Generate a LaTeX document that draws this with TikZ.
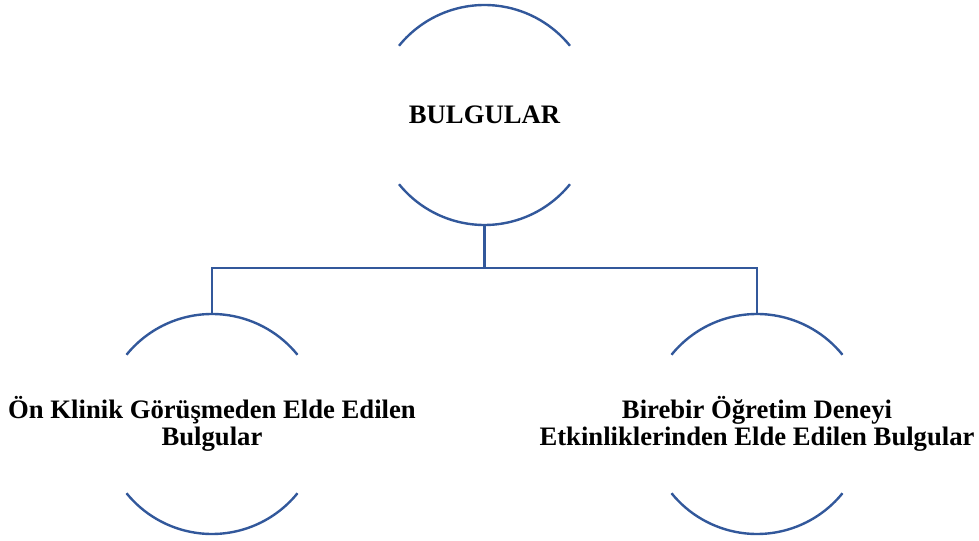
\documentclass[tikz,border=0pt]{standalone}
\usepackage{fontspec}
\setmainfont{Liberation Serif}
\usepackage{tikz}

\begin{document}
\begin{tikzpicture}[x=0.75pt,y=0.75pt,yscale=-1,xscale=1,
  ring/.style={circle,minimum size=164pt,inner sep=0pt},
  arcline/.style={draw={rgb, 255:red, 50; green, 88; blue, 155 },line width=1.8pt},
  caption/.style={align=center,font=\fontsize{20}{20.25}\selectfont\bfseries}]
\useasboundingbox (0,0) rectangle (979,541);

%Shape: Circle nodes
\node[ring] (bulgular) at (484.5,115) {};
\node[ring] (onklinik) at (212,424) {};
\node[ring] (birebir) at (757,424) {};

%Shape: Arcs
\draw[arcline] ([shift={(219:110)}]bulgular.center) arc[start angle=219, end angle=321, radius=110];
\draw[arcline] ([shift={(39:110)}]bulgular.center) arc[start angle=39, end angle=141, radius=110];
\draw[arcline] ([shift={(219:110)}]onklinik.center) arc[start angle=219, end angle=321, radius=110];
\draw[arcline] ([shift={(39:110)}]onklinik.center) arc[start angle=39, end angle=141, radius=110];
\draw[arcline] ([shift={(219:110)}]birebir.center) arc[start angle=219, end angle=321, radius=110];
\draw[arcline] ([shift={(39:110)}]birebir.center) arc[start angle=39, end angle=141, radius=110];

%Text
\node[caption] (bulgulartext) at (bulgular.center) {BULGULAR};
\node[caption] (onkliniktext) at (onklinik.center) {Ön Klinik Görüşmeden Elde Edilen\\Bulgular};
\node[caption] (birebirtext) at (birebir.center) {Birebir Öğretim Deneyi\\Etkinliklerinden Elde Edilen Bulgular};

%Straight Lines
\coordinate (fork) at (484.5,268);
\draw[arcline] (bulgular.south) -- (fork);
\draw[arcline] (onklinik.north) |- (fork) -| (birebir.north);
\end{tikzpicture}
\end{document}
